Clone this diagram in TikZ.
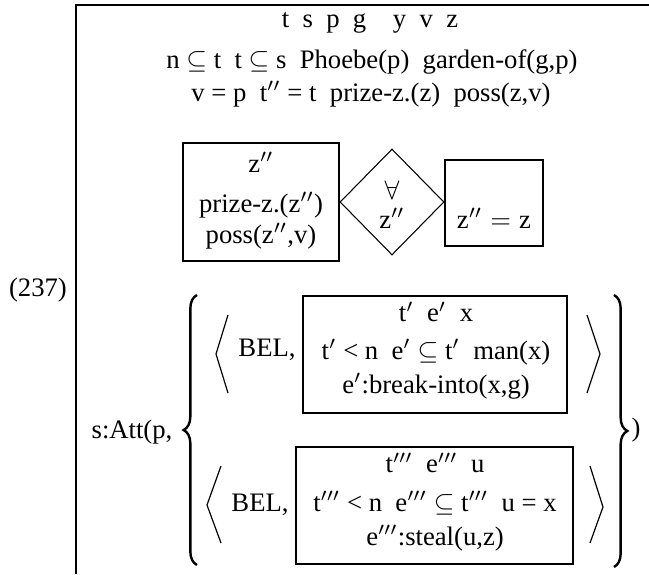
\documentclass[tikz,border=0pt]{standalone}
\usepackage{fontspec}
\setmainfont{Liberation Serif}
\usepackage{amsmath}
\usetikzlibrary{shapes.geometric, decorations.pathreplacing, fit}

\begin{document}
\begin{tikzpicture}[
    x=0.375pt, y=-0.375pt,
    every node/.style={font=\fontsize{10}{12}\selectfont, inner sep=0pt},
    drs/.style={draw, line width=0.7pt, inner sep=0pt},
    quant/.style={draw, shape=diamond, line width=0.4pt, minimum width=39pt, minimum height=39.75pt, inner sep=0pt},
    ang/.style={line width=0.45pt},
    curly/.style={decorate, decoration={brace, amplitude=5pt}, line width=0.9pt}
]
    \useasboundingbox (0,0) rectangle (649,574);

    % outer DRS (cut at right and bottom)
    \draw[line width=0.75pt] (76,574) -- (76,5) -- (649,5);
    \node (exno) at (38,290) {(237)};
    \node (univ) at (370,23) {t\hspace{0.5em}s\hspace{0.5em}p\hspace{0.5em}g\hspace{1em}y\hspace{0.5em}v\hspace{0.5em}z};
    \node (conda) at (372,62) {n $\subseteq$ t\ \ t $\subseteq$ s\ \ Phoebe(p)\ \ garden-of(g,p)};
    \node (condb) at (371,94) {v = p\ \ t$''$ = t\ \ prize-z.(z)\ \ poss(z,v)};

    % duplex condition
    \node[drs, fit={(183,143) (339,261)}] (zres) {};
    \node (zresu) at (261,162) {z$''$};
    \node (zresa) at (261,205) {prize-z.(z$''$)};
    \node (zresb) at (261,236) {poss(z$''$,v)};
    \node[quant] (allq) at (392,202) {};
    \node (allqa) at (392,190) {$\forall$};
    \node (allqb) at (392,218) {z$''$};
    \node[drs, fit={(445,160) (543,246)}] (zscope) {};
    \node (zeq) at (494,218) {z$''$\hspace{0.3em}$=$\hspace{0.3em}z};

    % attitude
    \node (att) at (132,432) {s:Att(p,};
    \draw[curly] (197,565) -- (197,295);
    \draw[curly] (614,295) -- (614,567);
    \node (close) at (636,430) {)};

    % first belief
    \node (belA) at (267,350) {BEL,};
    \node[drs, fit={(303,296) (567,413)}] (boxA) {};
    \node (boxAu) at (436,312) {t$'$\hspace{0.5em}e$'$\hspace{0.5em}x};
    \node (boxAa) at (436,352) {t$'$ < n\ \ e$'$ $\subseteq$ t$'$\ \ man(x)};
    \node (boxAb) at (436,386) {e$'$:break-into(x,g)};
    \draw[ang] (228,315) -- (216,354) -- (228,393);
    \draw[ang] (587,315) -- (600,354) -- (587,393);

    % second belief
    \node (belB) at (260,505) {BEL,};
    \node[drs, fit={(296,447) (573,564)}] (boxB) {};
    \node (boxBu) at (435,463) {t$'''$\hspace{0.5em}e$'''$\hspace{0.5em}u};
    \node (boxBa) at (435,503) {t$'''$ < n\ \ e$'''$ $\subseteq$ t$'''$\ \ u = x};
    \node (boxBb) at (435,538) {e$'''$:steal(u,z)};
    \draw[ang] (221,466) -- (207,505) -- (221,543);
    \draw[ang] (590,466) -- (603,507) -- (590,543);
\end{tikzpicture}
\end{document}
